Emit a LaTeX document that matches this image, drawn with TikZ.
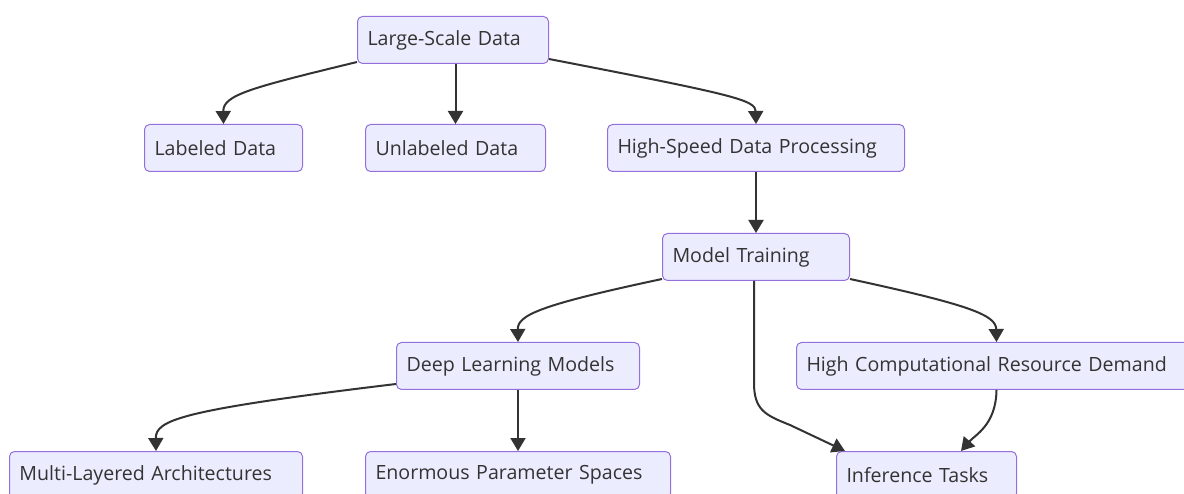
\documentclass[tikz,border=0pt]{standalone}
\usepackage{fontspec}
\setmainfont{Open Sans}
\usetikzlibrary{arrows.meta}
\definecolor{nodefill}{HTML}{ECECFF}
\definecolor{nodeborder}{HTML}{9370DB}
\definecolor{edgecol}{HTML}{333333}
\definecolor{textcol}{HTML}{333333}
\tikzset{
  box/.style={draw=nodeborder, fill=nodefill, line width=1pt, rounded corners=5pt,
    anchor=north west, minimum height=47pt, inner xsep=10pt, inner ysep=0pt,
    text=textcol, font=\fontsize{19.6}{23}\selectfont, align=left},
  edge/.style={draw=edgecol, line width=2pt, -{Triangle[length=13pt,width=15pt]}}
}
\begin{document}
\begin{tikzpicture}[x=1pt,y=-1pt]
\fill[white] (0,0) rectangle (1184,494);
\useasboundingbox (0,0) rectangle (1184,494);
\clip (0,0) rectangle (1184,494);
\node[box,text width=171pt] (LSD) at (357,16) {Large-Scale Data};
\node[box,text width=138pt] (LD) at (144,124) {Labeled Data};
\node[box,text width=160pt] (UD) at (365,124) {Unlabeled Data};
\node[box,text width=277pt] (HSDP) at (607,124) {High-Speed Data Processing};
\node[box,text width=167pt] (MT) at (662,233) {Model Training};
\node[box,text width=223pt] (DLM) at (396,342) {Deep Learning Models};
\node[box,text width=380pt] (HCRD) at (796,342) {High Computational Resource Demand};
\node[box,text width=273pt] (MLA) at (9,451) {Multi-Layered Architectures};
\node[box,text width=285pt] (EPS) at (365,451) {Enormous Parameter Spaces};
\node[box,text width=160pt] (IT) at (836,451) {Inference Tasks};

\draw[edge] ([yshift=2pt]LSD.south west) .. controls (250,88) and (223,95) .. (LD.north);
\draw[edge] (UD.north |- LSD.south) -- (UD.north);
\draw[edge] ([yshift=5pt]LSD.south east) .. controls (735,95) and (755.5,100) .. (HSDP.north);
\draw[edge] (HSDP.south) -- (MT.north);
\draw[edge] ([yshift=2pt]MT.south west) .. controls (540,305) and (517.5,315) .. (DLM.north);
\draw[edge] ([yshift=2pt]MT.south east) .. controls (970,305) and (996,315) .. (HCRD.north);
\draw[edge] ([xshift=-2pt]MT.south) -- ++(0,100) .. controls (753.5,410) and (765,415) .. (790,425) -- ([xshift=9pt]IT.north west);
\draw[edge] (HCRD.south) .. controls (996,425) and (975,435) .. ([xshift=-56pt]IT.north east);
\draw[edge] ([yshift=6pt]DLM.south west) .. controls (180,410) and (155.5,420) .. (MLA.north);
\draw[edge] (DLM.south) -- (EPS.north);
\end{tikzpicture}
\end{document}
